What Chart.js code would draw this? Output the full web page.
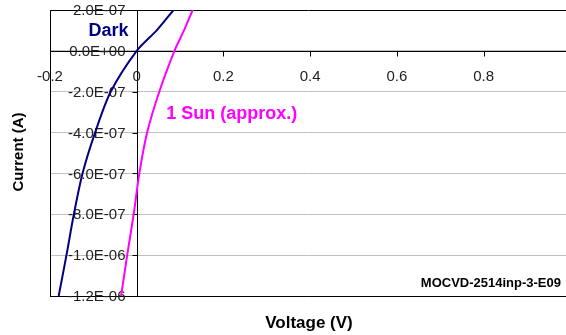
<!DOCTYPE html>
<html>
<head>
<meta charset="utf-8">
<script src="https://cdn.jsdelivr.net/npm/chart.js@4/dist/chart.umd.min.js"></script>
<style>
html,body{margin:0;padding:0;background:#fff;}
#wrap{width:566px;height:335px;}
</style>
</head>
<body>
<div id="wrap"><canvas id="c" width="566" height="335"></canvas></div>
<script>
// Data (Voltage in V, Current in A)
const darkV = [-0.180, -0.162, -0.145, -0.125, -0.096, -0.060, 0.000, 0.046, 0.085];
const darkI = [-1.2e-6, -1.0e-6, -8.0e-7, -6.0e-7, -4.0e-7, -2.0e-7, 0, 1.0e-7, 2.0e-7];
const sunV = [-0.036, -0.022, -0.007, 0.006, 0.024, 0.052, 0.087, 0.109, 0.129];
const sunI = [-1.2e-6, -1.0e-6, -8.0e-7, -6.0e-7, -4.0e-7, -2.0e-7, 0, 1.0e-7, 2.0e-7];

const xTicks = [-0.2, 0, 0.2, 0.4, 0.6, 0.8];
const xTickLabels = ['-0.2', '0', '0.2', '0.4', '0.6', '0.8'];
const yTicks = [2e-7, 0, -2e-7, -4e-7, -6e-7, -8e-7, -1e-6, -1.2e-6];
const yTickLabels = ['2.0E-07', '0.0E+00', '-2.0E-07', '-4.0E-07', '-6.0E-07', '-8.0E-07', '-1.0E-06', '-1.2E-06'];

const FONT = '"Liberation Sans", Arial, sans-serif';

const toPts = (xs, ys) => xs.map((x, i) => ({x: x, y: ys[i]}));

const axesPlugin = {
  id: 'excelAxes',
  beforeDatasetsDraw(chart) {
    const ctx = chart.ctx;
    const xs = chart.scales.x, ys = chart.scales.y;
    const ca = chart.chartArea;
    const x0 = Math.round(xs.getPixelForValue(0)) + 0.5;
    const y0 = Math.round(ys.getPixelForValue(0)) + 0.5;
    ctx.save();
    ctx.strokeStyle = '#000';
    ctx.lineWidth = 1;
    ctx.beginPath();
    ctx.moveTo(x0, ca.top); ctx.lineTo(x0, ca.bottom);
    ctx.moveTo(ca.left, y0); ctx.lineTo(ca.right, y0);
    yTicks.forEach(v => {
      const p = Math.round(ys.getPixelForValue(v)) + 0.5;
      ctx.moveTo(x0 - 5, p); ctx.lineTo(x0, p);
    });
    xTicks.forEach(v => {
      const p = Math.round(xs.getPixelForValue(v)) + 0.5;
      ctx.moveTo(p, y0); ctx.lineTo(p, y0 + 5);
    });
    ctx.stroke();

    ctx.fillStyle = '#222';
    ctx.font = '15px ' + FONT;
    ctx.textAlign = 'right';
    ctx.textBaseline = 'middle';
    yTicks.forEach((v, i) => {
      ctx.fillText(yTickLabels[i], x0 - 12, ys.getPixelForValue(v) + 1);
    });
    ctx.textAlign = 'center';
    xTicks.forEach((v, i) => {
      ctx.fillText(xTickLabels[i], xs.getPixelForValue(v), y0 + 25);
    });

    ctx.fillStyle = '#000';
    ctx.font = 'bold 15px ' + FONT;
    ctx.save();
    ctx.translate(19, 152);
    ctx.rotate(-Math.PI / 2);
    ctx.textAlign = 'center';
    ctx.textBaseline = 'middle';
    ctx.fillText('Current (A)', 0, 0);
    ctx.restore();
    ctx.font = 'bold 17px ' + FONT;
    ctx.textAlign = 'center';
    ctx.textBaseline = 'middle';
    ctx.fillText('Voltage (V)', 309, 323);

    ctx.font = 'bold 13px ' + FONT;
    ctx.textAlign = 'right';
    ctx.fillText('MOCVD-2514inp-3-E09', 561, 283);

    ctx.fillStyle = '#000080';
    ctx.font = 'bold 18px ' + FONT;
    ctx.textAlign = 'right';
    ctx.fillText('Dark', xs.getPixelForValue(-0.019), ys.getPixelForValue(0.96e-7));
    ctx.fillStyle = '#ff00ff';
    ctx.font = 'bold 18px ' + FONT;
    ctx.textAlign = 'left';
    ctx.fillText('1 Sun (approx.)', xs.getPixelForValue(0.068), ys.getPixelForValue(-3.1e-7));
    ctx.restore();
  }
};

new Chart(document.getElementById('c'), {
  type: 'scatter',
  data: {
    datasets: [
      {label: 'Dark', data: toPts(darkV, darkI), showLine: true, borderColor: '#000080', borderWidth: 2, pointRadius: 0, tension: 0.3, fill: false},
      {label: '1 Sun (approx.)', data: toPts(sunV, sunI), showLine: true, borderColor: '#ff00ff', borderWidth: 2, pointRadius: 0, tension: 0.3, fill: false}
    ]
  },
  options: {
    responsive: false,
    animation: false,
    devicePixelRatio: 1,
    layout: {padding: {left: 50, top: 10, right: 0, bottom: 39}},
    plugins: {legend: {display: false}, tooltip: {enabled: false}},
    scales: {
      x: {
        type: 'linear', min: -0.2, max: 0.99,
        ticks: {display: false},
        grid: {display: false, drawTicks: false},
        border: {display: true, color: '#000', width: 1}
      },
      y: {
        type: 'linear', min: -1.2e-6, max: 2e-7,
        afterBuildTicks: (s) => { s.ticks = yTicks.slice().reverse().map(v => ({value: v})); },
        ticks: {display: false},
        grid: {
          display: true, drawTicks: false, tickLength: 0,
          color: (c) => (c.tick && (Math.abs(c.tick.value - 2e-7) < 1e-12 || Math.abs(c.tick.value + 1.2e-6) < 1e-12)) ? '#000' : '#c0c0c0',
          lineWidth: 1
        },
        border: {display: true, color: '#000', width: 1}
      }
    }
  },
  plugins: [axesPlugin]
});
</script>
</body>
</html>
